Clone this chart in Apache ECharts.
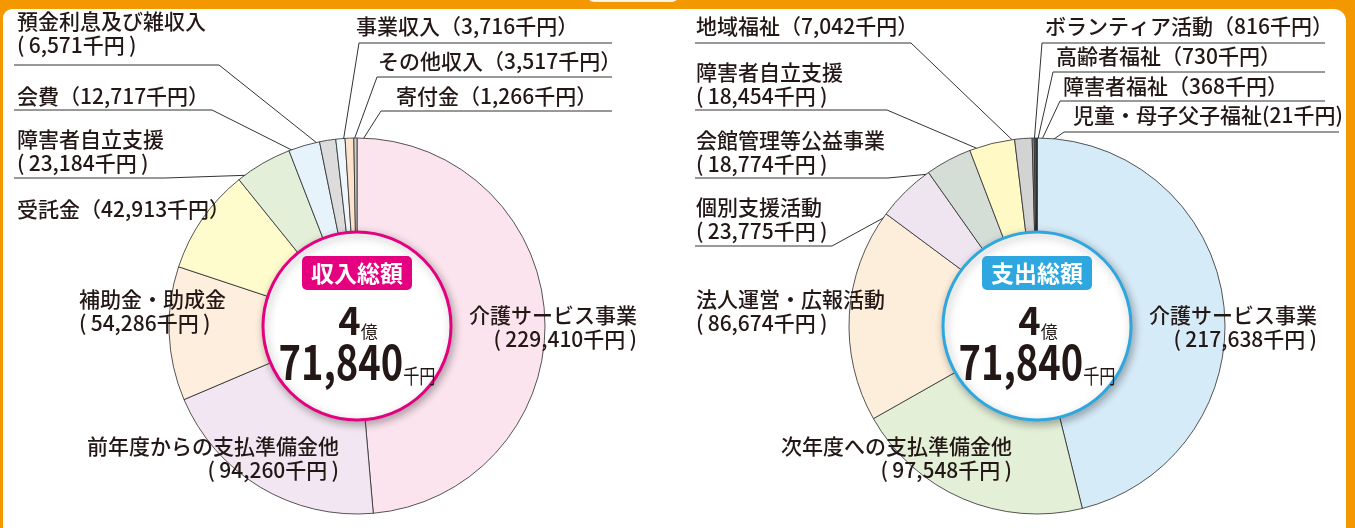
<!DOCTYPE html>
<html lang="ja">
<head>
<meta charset="UTF-8">
<title>収入・支出</title>
<style>
  html, body { margin: 0; padding: 0; background: #fff; }
  #main { width: 1355px; height: 528px; }
</style>
</head>
<body>
<div id="main"></div>
<script src="https://cdn.jsdelivr.net/npm/echarts@6/dist/echarts.min.js"></script>
<script>
// ---- data (千円) ----
var incomeNames = ['介護サービス事業', '前年度からの支払準備金他', '補助金・助成金', '受託金',
  '障害者自立支援', '会費', '預金利息及び雑収入', '事業収入', 'その他収入', '寄付金'];
var incomeValues = [229410, 94260, 54286, 42913, 23184, 12717, 6571, 3716, 3517, 1266];

var expenseNames = ['介護サービス事業', '次年度への支払準備金他', '法人運営・広報活動', '個別支援活動',
  '会館管理等公益事業', '障害者自立支援', '地域福祉', 'ボランティア活動', '高齢者福祉',
  '障害者福祉', '児童・母子父子福祉'];
var expenseValues = [217638, 97548, 86674, 23775, 18774, 18454, 7042, 816, 730, 368, 21];

var totalOku = '4';
var totalRest = '71,840';

// ---- styling ----
var FONT = '"Noto Sans CJK JP", "Noto Sans", sans-serif';
var incomeColors = ['#fce4ef', '#f1e6f1', '#fdeedd', '#fefbcd', '#e3efd9', '#e6f3fb',
  '#dcdcdc', '#f0f7fc', '#fde2cc', '#d0d0d0'];
var expenseColors = ['#d6ebf8', '#e3efd7', '#fdeedb', '#efe5f1', '#d5ddd7', '#fff9c6',
  '#d3d3d3', '#9a9a9a', '#7a7a7a', '#5a5a5a', '#333333'];

// label placement: x, y (top), align, wrap (two lines), tight paren, line [elbowX, lineY, endX]
var incomeLabels = [
  { x: 637, y: 303, align: 'right', wrap: true },
  { x: 339, y: 434, align: 'right', wrap: true },
  { x: 79, y: 287, wrap: true },
  { x: 17, y: 197 },
  { x: 17, y: 127, wrap: true, line: [165, 178, 14] },
  { x: 17, y: 84, line: [212, 110, 14] },
  { x: 17, y: 9, wrap: true, line: [219, 65, 14] },
  { x: 356, y: 14, line: [359, 43, 612] },
  { x: 378, y: 49, line: [377, 77, 612] },
  { x: 396, y: 84, line: [381, 111, 612] }
];
var expenseLabels = [
  { x: 1317, y: 303, align: 'right', wrap: true },
  { x: 1012, y: 434, align: 'right', wrap: true },
  { x: 696, y: 287, wrap: true },
  { x: 696, y: 195, wrap: true, line: [832, 246, 695] },
  { x: 696, y: 128, wrap: true, line: [888, 178, 695] },
  { x: 696, y: 60, wrap: true, line: [887, 110, 695] },
  { x: 696, y: 14, line: [911, 43, 695] },
  { x: 1045, y: 14, line: [1042, 43, 1325] },
  { x: 1056, y: 44, line: [1053, 72, 1325] },
  { x: 1063, y: 74, line: [1060, 101, 1325] },
  { x: 1073, y: 103, tight: true, line: [1064, 132, 1339] }
];

var R = 188;
var incomeCenter = [357, 326];
var expenseCenter = [1037, 326];

function labelText(name, value, L) {
  var v = echarts.format.addCommas(value) + '千円';
  if (L.wrap) return name + '\n(\u2009' + v + '\u2009)';
  if (L.tight) return name + '(' + v + ')';
  return name + '（' + v + '）';
}

function buildData(names, values, colors, labels) {
  return names.map(function (n, i) {
    return {
      name: n,
      value: values[i],
      itemStyle: { color: colors[i] },
      label: { formatter: labelText(n, values[i], labels[i]) },
      labelLine: { show: !!labels[i].line }
    };
  });
}

function makeLayout(labels, values, center) {
  var total = values.reduce(function (a, b) { return a + b; }, 0);
  return function (params) {
    var L = labels[params.dataIndex];
    var out = { x: L.x, y: L.y, align: L.align || 'left', verticalAlign: 'top' };
    if (L.line) {
      var cx = center[0], cy = center[1];
      var p = params.labelLinePoints && params.labelLinePoints[0];
      if (!p) {
        var cum = 0;
        for (var i = 0; i < params.dataIndex; i++) cum += values[i];
        var a = (90 - (cum + values[params.dataIndex] / 2) / total * 360) * Math.PI / 180;
        p = [cx + R * Math.cos(a), cy - R * Math.sin(a)];
      }
      var dx = p[0] - cx, dy = p[1] - cy, d = Math.sqrt(dx * dx + dy * dy);
      var k = (d - 13) / d;
      out.labelLinePoints = [[cx + dx * k, cy + dy * k], [L.line[0], L.line[1]], [L.line[2], L.line[1]]];
    }
    return out;
  };
}

function pieSeries(names, values, colors, labels, center) {
  return {
    type: 'pie',
    center: center,
    radius: [0, R],
    startAngle: 90,
    clockwise: true,
    avoidLabelOverlap: false,
    animation: false,
    silent: true,
    itemStyle: { borderColor: '#2b2b2b', borderWidth: 0.8 },
    label: {
      show: true,
      position: 'outside',
      color: '#231815',
      fontFamily: FONT,
      fontWeight: 500,
      fontSize: 21,
      lineHeight: 24
    },
    labelLine: { show: true, length: 10, length2: 10, lineStyle: { color: '#333', width: 1 } },
    labelLayout: makeLayout(labels, values, center),
    data: buildData(names, values, colors, labels)
  };
}

function centerBadge(center, title, color) {
  var cx = center[0], cy = center[1];
  return [
    {
      type: 'circle', z: 20,
      shape: { cx: cx, cy: cy, r: 94 },
      style: { fill: '#fff', stroke: color, lineWidth: 3, shadowBlur: 8, shadowOffsetX: 2, shadowOffsetY: 3, shadowColor: 'rgba(0,0,0,0.3)' }
    },
    {
      type: 'text', z: 21, x: cx, y: cy - 53,
      style: {
        text: title, fill: '#fff', font: 'bold 23px ' + FONT,
        align: 'center', verticalAlign: 'middle',
        backgroundColor: color, borderRadius: 5, padding: [6, 9, 5, 9]
      }
    },
    {
      type: 'text', z: 21, x: cx + 1, y: cy + 14,
      style: {
        text: '{n|' + totalOku + '}{u|億}', align: 'center', verticalAlign: 'bottom',
        rich: {
          n: { fontSize: 38, fontWeight: 'bold', fontFamily: FONT, fill: '#231815', verticalAlign: 'bottom', lineHeight: 42 },
          u: { fontSize: 17, fontFamily: FONT, fill: '#231815', verticalAlign: 'bottom', lineHeight: 34 }
        }
      }
    },
    {
      type: 'text', z: 21, x: cx, y: cy + 60, scaleX: 0.81, originX: 0,
      style: {
        text: '{n|' + totalRest + '}{u|千円}', align: 'center', verticalAlign: 'bottom',
        rich: {
          n: { fontSize: 47, fontWeight: 'bold', fontFamily: FONT, fill: '#231815', verticalAlign: 'bottom', lineHeight: 50 },
          u: { fontSize: 20, fontFamily: FONT, fill: '#231815', verticalAlign: 'bottom', lineHeight: 38 }
        }
      }
    }
  ];
}

var myChart = echarts.init(document.getElementById('main'));

myChart.setOption({
  backgroundColor: '#fff',
  animation: false,
  graphic: [
    { type: 'rect', z: -10, shape: { x: -20, y: -20, width: 1375, height: 600, r: [0, 22, 0, 0] }, style: { fill: '#f39800' } },
    { type: 'rect', z: -9, shape: { x: 3, y: 9, width: 1343, height: 560, r: [9, 12, 0, 0] }, style: { fill: '#fff' } },
    { type: 'rect', z: -8, shape: { x: 588, y: -20, width: 90, height: 22, r: 6 }, style: { fill: '#fdf3e6' } }
  ].concat(centerBadge(incomeCenter, '収入総額', '#e4007f'))
   .concat(centerBadge(expenseCenter, '支出総額', '#2ea7e0')),
  series: [
    pieSeries(incomeNames, incomeValues, incomeColors, incomeLabels, incomeCenter),
    pieSeries(expenseNames, expenseValues, expenseColors, expenseLabels, expenseCenter)
  ]
});
</script>
</body>
</html>
